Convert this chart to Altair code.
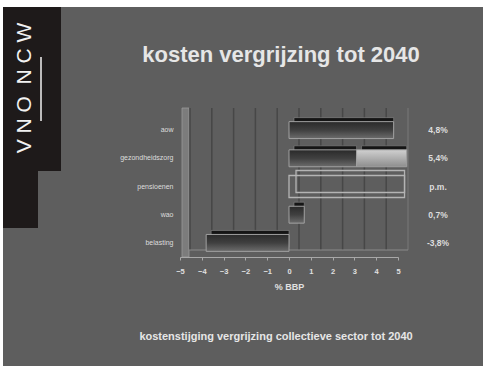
import altair as alt
import pandas as pd

# ---- data ----
categories = ["aow", "gezondheidszorg", "pensioenen", "wao", "belasting"]
value_labels = ["4,8%", "5,4%", "p.m.", "0,7%", "-3,8%"]
seg_category = ["aow", "gezondheidszorg", "gezondheidszorg", "wao", "belasting"]
seg_start = [0.0, 0.0, 3.1, 0.0, -3.8]
seg_end = [4.8, 3.1, 5.4, 0.7, 0.0]
seg_kind = ["dark", "dark", "light", "dark", "dark"]
pm_category = ["pensioenen"]
pm_start = [0.0]
pm_end = [5.3]
x_ticks = [-5, -4, -3, -2, -1, 0, 1, 2, 3, 4, 5]

title_text = "kosten vergrijzing tot 2040"
caption_text = "kostenstijging vergrijzing collectieve sector tot 2040"
NB = "\u00a0"
logo_text = NB.join(["V", "N", "O", NB + "N", "C", "W"])
x_title = "% BBP"

FONT = "Liberation Sans"
W, H = 218, 141
PL, PT = 180, 116

segs = pd.DataFrame({"cat": seg_category, "x0": seg_start, "x1": seg_end, "kind": seg_kind})
pm = pd.DataFrame({"cat": pm_category, "x0": pm_start, "x1": pm_end})
labels_df = pd.DataFrame({"cat": categories, "lab": value_labels})
ticks_df = pd.DataFrame({"t": x_ticks})
one = pd.DataFrame({"a": [0]})

xscale = alt.Scale(domain=[-5, 5], nice=False, zero=False)
yscale = alt.Scale(domain=categories, paddingInner=0.4, paddingOuter=0.2)

x_axis = alt.Axis(values=x_ticks, title=x_title, grid=False, labelFontSize=7.5,
                  labelFontWeight="bold", labelColor="#e0e0e0", labelFont=FONT,
                  domainColor="#a8a8a8", tickColor="#a8a8a8", tickSize=3,
                  labelPadding=7, titleFont=FONT, titleFontSize=9,
                  titleFontWeight="bold", titleColor="#e0e0e0", titlePadding=8,
                  labelFlush=False, labelOverlap=False, format="d", zindex=1)


def px(v):  # absolute page x -> plot coords
    return v - PL


def py(v):
    return v - PT


base_one = alt.Chart(one)

bg = base_one.mark_rect(color="#5e5e5e").encode(
    x=alt.value(px(3)), x2=alt.value(px(483)), y=alt.value(py(7)), y2=alt.value(py(366)))
band1 = base_one.mark_rect(color="#1e1a1a").encode(
    x=alt.value(px(3)), x2=alt.value(px(61)), y=alt.value(py(7)), y2=alt.value(py(171)))
band2 = base_one.mark_rect(color="#1e1a1a").encode(
    x=alt.value(px(3)), x2=alt.value(px(38)), y=alt.value(py(170)), y2=alt.value(py(228)))
logo = base_one.mark_text(angle=270, color="#f2f2f2", font=FONT, fontSize=21,
                          align="center", baseline="middle").encode(
    x=alt.value(px(25)), y=alt.value(py(88)), text=alt.value(logo_text))
logo_line = base_one.mark_rule(color="#f2f2f2", strokeWidth=1.5).encode(
    x=alt.value(px(41)), y=alt.value(py(57)), y2=alt.value(py(121)))

title = base_one.mark_text(color="#e6e6e6", font=FONT, fontSize=22, fontWeight="bold",
                           align="center", baseline="middle").encode(
    x=alt.value(px(281)), y=alt.value(py(55)), text=alt.value(title_text))
caption = base_one.mark_text(color="#e6e6e6", font=FONT, fontSize=11, fontWeight="bold",
                             align="center", baseline="middle").encode(
    x=alt.value(px(276)), y=alt.value(py(337)), text=alt.value(caption_text))

left_wall = base_one.mark_rect(color="#7c7c7c", stroke="#9a9a9a", strokeWidth=0.8).encode(
    x=alt.value(2), x2=alt.value(9), y=alt.value(-8), y2=alt.value(H))
floor_back = base_one.mark_rule(color="#8a8a8a", strokeWidth=1).encode(
    x=alt.value(9), x2=alt.value(W + 10), y=alt.value(H - 7))
floor_right = base_one.mark_rule(color="#8a8a8a", strokeWidth=1).encode(
    x=alt.value(W + 10), y=alt.value(-8), y2=alt.value(H - 7))

grid = alt.Chart(ticks_df).mark_rule(color="#474747", strokeWidth=1.5, xOffset=10).encode(
    x=alt.X("t:Q", scale=xscale, axis=x_axis),
    y=alt.value(-8), y2=alt.value(H - 7))

dark_grad = alt.Gradient(gradient="linear", x1=0, x2=0, y1=0, y2=1,
                         stops=[alt.GradientStop(offset=0, color="#2a2a2a"),
                                alt.GradientStop(offset=0.5, color="#404040"),
                                alt.GradientStop(offset=1, color="#6c6c6c")])
light_grad = alt.Gradient(gradient="linear", x1=0, x2=0, y1=0, y2=1,
                          stops=[alt.GradientStop(offset=0, color="#d0d0d0"),
                                 alt.GradientStop(offset=1, color="#8e8e8e")])

y_enc = alt.Y("cat:N", scale=yscale, sort=categories,
              axis=alt.Axis(title=None, ticks=False, domain=False, labelFontSize=7,
                            labelColor="#dddddd", labelFont=FONT, labelPadding=7, zindex=1))
x_enc = alt.X("x0:Q", scale=xscale, axis=x_axis)

back = alt.Chart(segs).mark_bar(color="#151515", xOffset=5, yOffset=-4,
                                stroke="#8a8a8a", strokeWidth=0.6).encode(
    x=x_enc, x2="x1:Q", y=y_enc)
front_dark = alt.Chart(segs).transform_filter("datum.kind == 'dark'").mark_bar(
    color=dark_grad, stroke="#a0a0a0", strokeWidth=1).encode(x=x_enc, x2="x1:Q", y=y_enc)
front_light = alt.Chart(segs).transform_filter("datum.kind == 'light'").mark_bar(
    color=light_grad, stroke="#a0a0a0", strokeWidth=1).encode(x=x_enc, x2="x1:Q", y=y_enc)

pm_back = alt.Chart(pm).mark_bar(fillOpacity=0, stroke="#b4b4b4", strokeWidth=1.3,
                                 height=22, xOffset=7, yOffset=-5).encode(
    x=x_enc, x2="x1:Q", y=y_enc)
pm_front = alt.Chart(pm).mark_bar(fillOpacity=0, stroke="#b4b4b4", strokeWidth=1.3,
                                  height=22).encode(x=x_enc, x2="x1:Q", y=y_enc)

right_labels = alt.Chart(labels_df).mark_text(color="#dddddd", font=FONT, fontSize=8.5,
                                              fontWeight="bold", align="center",
                                              baseline="middle").encode(
    y=y_enc, x=alt.value(px(438)), text="lab:N")

chart = alt.layer(
    bg, band1, band2, logo, logo_line, title, caption,
    left_wall, grid, floor_back, floor_right,
    back, front_dark, front_light, pm_back, pm_front, right_labels
).properties(
    width=W, height=H, autosize="none",
    padding={"left": PL, "top": PT, "right": 488 - PL - W, "bottom": 371 - PT - H},
    background="white"
).configure_view(stroke=None).configure_axisX(labelOverlap=False)

chart.save("out.html", embed_options={"renderer": "svg", "actions": False})
